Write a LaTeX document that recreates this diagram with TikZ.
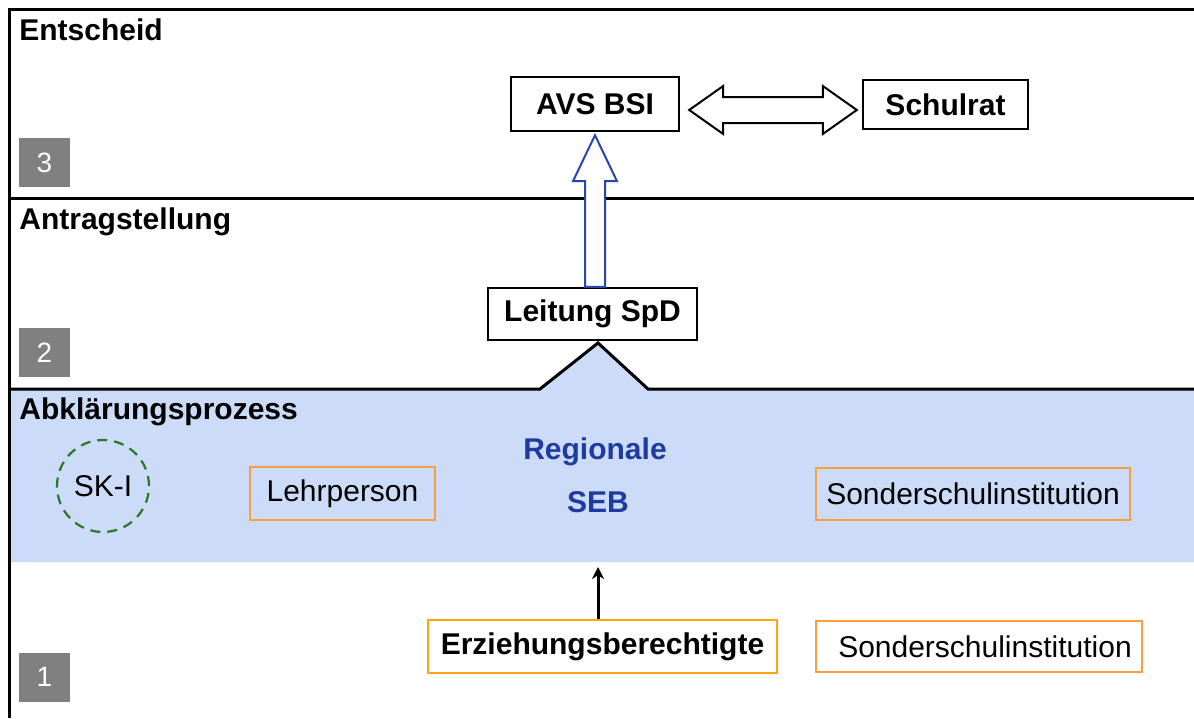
\documentclass[tikz,border=0pt]{standalone}
\usepackage{fontspec}
\setmainfont{Liberation Sans}
\usetikzlibrary{calc,arrows.meta}
\definecolor{bandblue}{RGB}{204,220,248}
\definecolor{boxorange}{RGB}{246,160,64}
\definecolor{erzorange}{RGB}{255,165,20}
\definecolor{sebblue}{RGB}{30,60,160}
\definecolor{arrowblue}{RGB}{40,70,170}
\definecolor{skgreen}{RGB}{40,120,40}
\definecolor{numgray}{RGB}{128,128,128}
\tikzset{
  frameline/.style={line width=1.5pt,black},
  blackbox/.style={draw=black,line width=1.2pt,fill=white,inner sep=0pt,font=\fontsize{15}{18}\selectfont\bfseries},
  orangebox/.style={draw=boxorange,line width=1.2pt,inner sep=0pt,font=\fontsize{15}{18}\selectfont},
  numbox/.style={fill=numgray,text=white,inner sep=0pt,minimum width=25.5pt,minimum height=24.5pt,font=\fontsize{14}{16}\selectfont},
  title/.style={anchor=west,inner sep=0pt,font=\fontsize{15}{18}\selectfont\bfseries},
  sebtext/.style={inner sep=0pt,text=sebblue,font=\fontsize{15}{18}\selectfont\bfseries},
  hollow/.style={draw=black,line width=1pt,fill=white,line join=miter},
  hollowblue/.style={draw=arrowblue,line width=1pt,fill=white,line join=miter}
}
\begin{document}
\begin{tikzpicture}[x=0.5pt,y=-0.5pt]
\useasboundingbox (0,0) rectangle (1194,718);
\fill[white] (0,0) rectangle (1194,718);
% blue band
\fill[bandblue] (9,389) -- (540,389) -- (598,343) -- (648,389) -- (1194,389) -- (1194,562) -- (9,562) -- cycle;
% frame lines
\draw[frameline] (9,718) -- (9,9) -- (1194,9);
\draw[frameline] (9,198) -- (1194,198);
\draw[frameline,line join=miter] (9,389) -- (540,389) -- (598,343) -- (648,389) -- (1194,389);
% titles
\node[title] (t3) at (19,30) {Entscheid};
\node[title] (t2) at (19,222) {Antragstellung};
\node[title] (t1) at (19,412) {Abklärungsprozess};
% numbers
\node[numbox] (n3) at (44.5,162.5) {3\hspace{6pt}};
\node[numbox] (n2) at (44.5,352.5) {2\hspace{6pt}};
\node[numbox] (n1) at (44.5,677) {1\hspace{6pt}};
% boxes
\node[blackbox,minimum width=84pt,minimum height=27pt] (avs) at (595,104) {AVS BSI};
\node[blackbox,minimum width=82.5pt,minimum height=24.5pt] (schulrat) at (945.5,104.5) {Schulrat};
\node[blackbox,minimum width=104.5pt,minimum height=26pt] (leitung) at (592.5,314) {Leitung SpD};
\node[orangebox,minimum width=92.5pt,minimum height=26.5pt] (lehr) at (342.5,493.5) {Lehrperson};
\node[orangebox,minimum width=157pt,minimum height=26pt] (sonder1) at (973,494) {Sonderschulinstitution};
\node[orangebox,fill=white,minimum width=163pt,minimum height=25.5pt] (sonder2) at (979,646.5) {\hspace{6pt}Sonderschulinstitution};
\node[orangebox,draw=erzorange,fill=white,minimum width=174.5pt,minimum height=26.5pt,font=\fontsize{15}{18}\selectfont\bfseries] (erz) at (602.5,646.5) {Erziehungsberechtigte};
\node[circle,draw=skgreen,line width=1.1pt,dash pattern=on 5pt off 3.5pt,minimum size=46pt,inner sep=0pt,font=\fontsize{15}{18}\selectfont] (ski) at (103,486) {SK-I};
\node[sebtext] (reg) at (595,452) {Regionale};
\node[sebtext] (seb) at (598,502) {SEB};
% double hollow arrow
\coordinate (dl) at ($(avs.east)+(9,6)$);
\coordinate (dr) at ($(dl -| schulrat.west)+(-5,0)$);
\draw[hollow] (dl) -- ++(34,-24) -- ++(0,11) -- ($(dr)+(-34,-13)$) -- ++(0,-11) -- (dr) -- ++(-34,24) -- ++(0,-11) -- ($(dl)+(34,13)$) -- ++(0,11) -- cycle;
% hollow blue arrow
\coordinate (bt) at ($(avs.south)+(0,3)$);
\coordinate (bb) at (bt |- leitung.north);
\draw[hollowblue] (bt) -- ++(22,46) -- ++(-12,0) -- ($(bb)+(10,0)$) -- ($(bb)+(-10,0)$) -- ($(bt)+(-10,46)$) -- ++(-12,0) -- cycle;
% small black arrow
\coordinate (sebin) at (598,567);
\draw[line width=1.5pt,-{Stealth[length=6pt,width=6pt]}] (erz.north -| sebin) -- (sebin);
\end{tikzpicture}
\end{document}
